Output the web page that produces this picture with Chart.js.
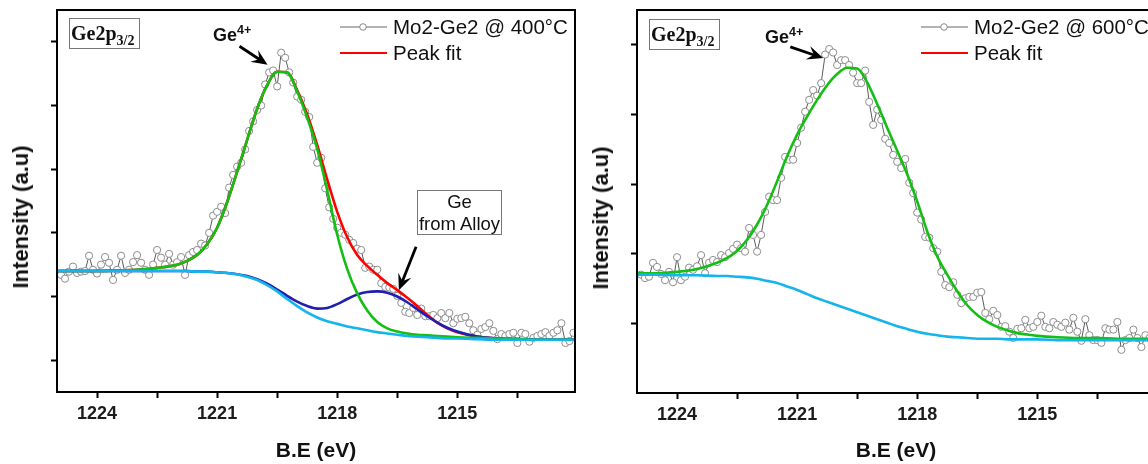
<!DOCTYPE html>
<html>
<head>
<meta charset="utf-8">
<title>Ge2p3/2 XPS - Mo2-Ge2</title>
<script src="https://cdn.jsdelivr.net/npm/chart.js@4.4.1/dist/chart.umd.min.js"></script>
<style>
html, body { margin: 0; padding: 0; background: #fff; }
body { width: 1148px; height: 464px; overflow: hidden; position: relative; font-family: "Liberation Sans", Arial, sans-serif; color: #111; }
.panel { position: absolute; top: 0; width: 580px; height: 464px; }
.panel canvas { position: absolute; left: 0; top: 0; }
.ytitle { position: absolute; font-weight: bold; font-size: 22px; line-height: 22px; white-space: nowrap; transform: translate(-50%, -50%) rotate(-90deg); }
.tag { position: absolute; width: 71px; height: 31px; box-sizing: border-box; border: 1px solid #777; padding-left: 1px; font-family: "Liberation Serif", "Times New Roman", serif; font-weight: bold; font-size: 20px; line-height: 29px; white-space: nowrap; }
.tag .sub { font-size: 14px; position: relative; top: 5px; }
.ion { position: absolute; font-weight: bold; font-size: 18px; line-height: 18px; white-space: nowrap; }
.ion .sup { font-size: 12.5px; position: relative; top: -7px; }
.lgtext { position: absolute; font-size: 20.5px; line-height: 20.5px; white-space: nowrap; }
.lgsym { position: absolute; }
.alloy { position: absolute; box-sizing: border-box; border: 1px solid #777; font-size: 18.5px; line-height: 22px; text-align: center; white-space: nowrap; }
</style>
</head>
<body>

<div class="panel" style="left:0px">
  <canvas id="c400" width="580" height="464"></canvas>
  <div class="ytitle" style="left:21px;top:217px">Intensity (a.u)</div>
  <div class="tag" style="left:69px;top:18px">Ge2p<span class="sub">3/2</span></div>
  <div class="ion" style="left:213px;top:26px">Ge<span class="sup">4+</span></div>
  <svg class="lgsym" style="left:340px;top:20px" width="48" height="14"><line x1="0" y1="7" x2="47" y2="7" stroke="#666" stroke-width="1.2"/><circle cx="23" cy="7" r="3.3" fill="#fff" stroke="#888" stroke-width="1"/></svg>
  <svg class="lgsym" style="left:340px;top:46px" width="48" height="14"><line x1="0" y1="7" x2="47" y2="7" stroke="#ff0000" stroke-width="2.2"/></svg>
  <div class="lgtext" style="left:393px;top:17px">Mo2-Ge2 @ 400°C</div>
  <div class="lgtext" style="left:393px;top:43px">Peak fit</div>
  <div class="alloy" style="left:417px;top:190px;width:85px;height:45px">Ge<br>from Alloy</div>
</div>

<div class="panel" style="left:580px">
  <canvas id="c600" width="580" height="464"></canvas>
  <div class="ytitle" style="left:21px;top:218px">Intensity (a.u)</div>
  <div class="tag" style="left:69px;top:19px">Ge2p<span class="sub">3/2</span></div>
  <div class="ion" style="left:185px;top:28px">Ge<span class="sup">4+</span></div>
  <svg class="lgsym" style="left:341px;top:20px" width="48" height="14"><line x1="0" y1="7" x2="47" y2="7" stroke="#666" stroke-width="1.2"/><circle cx="23" cy="7" r="3.3" fill="#fff" stroke="#888" stroke-width="1"/></svg>
  <svg class="lgsym" style="left:341px;top:46px" width="48" height="14"><line x1="0" y1="7" x2="47" y2="7" stroke="#ff0000" stroke-width="2.2"/></svg>
  <div class="lgtext" style="left:394px;top:17px">Mo2-Ge2 @ 600°C</div>
  <div class="lgtext" style="left:394px;top:43px">Peak fit</div>
</div>

<script>
// binding energy of every measured point (eV)
const dataEV = [
  1224.9, 1224.8, 1224.7, 1224.6, 1224.5, 1224.4, 1224.3, 1224.2, 1224.1, 1224.0,
  1223.9, 1223.8, 1223.7, 1223.6, 1223.5, 1223.4, 1223.3, 1223.2, 1223.1, 1223.0,
  1222.9, 1222.8, 1222.7, 1222.6, 1222.5, 1222.4, 1222.3, 1222.2, 1222.1, 1222.0,
  1221.9, 1221.8, 1221.7, 1221.6, 1221.5, 1221.4, 1221.3, 1221.2, 1221.1, 1221.0,
  1220.9, 1220.8, 1220.7, 1220.6, 1220.5, 1220.4, 1220.3, 1220.2, 1220.1, 1220.0,
  1219.9, 1219.8, 1219.7, 1219.6, 1219.5, 1219.4, 1219.3, 1219.2, 1219.1, 1219.0,
  1218.9, 1218.8, 1218.7, 1218.6, 1218.5, 1218.4, 1218.3, 1218.2, 1218.1, 1218.0,
  1217.9, 1217.8, 1217.7, 1217.6, 1217.5, 1217.4, 1217.3, 1217.2, 1217.1, 1217.0,
  1216.9, 1216.8, 1216.7, 1216.6, 1216.5, 1216.4, 1216.3, 1216.2, 1216.1, 1216.0,
  1215.9, 1215.8, 1215.7, 1215.6, 1215.5, 1215.4, 1215.3, 1215.2, 1215.1, 1215.0,
  1214.9, 1214.8, 1214.7, 1214.6, 1214.5, 1214.4, 1214.3, 1214.2, 1214.1, 1214.0,
  1213.9, 1213.8, 1213.7, 1213.6, 1213.5, 1213.4, 1213.3, 1213.2, 1213.1, 1213.0,
  1212.9, 1212.8, 1212.7, 1212.6, 1212.5, 1212.4, 1212.3, 1212.2, 1212.1
];

// Mo2-Ge2 @ 400°C (a.u)
const counts400 = [
  1.84, 1.78, 1.89, 1.97, 1.87, 1.89, 1.90, 2.14, 1.92, 1.86,
  2.00, 2.12, 2.03, 1.76, 1.92, 2.14, 1.87, 1.92, 2.04, 2.15,
  2.03, 1.92, 1.84, 2.00, 2.23, 2.11, 2.00, 2.17, 2.00, 2.04,
  2.12, 1.84, 2.15, 2.20, 2.23, 2.33, 2.30, 2.50, 2.77, 2.83,
  2.91, 2.81, 3.21, 3.41, 3.54, 3.60, 3.81, 4.10, 4.25, 4.43,
  4.50, 4.83, 5.02, 5.05, 4.80, 5.33, 5.25, 5.02, 4.86, 4.64,
  4.59, 4.40, 4.32, 3.85, 3.60, 3.68, 3.20, 2.90, 2.72, 2.58,
  2.50, 2.47, 2.39, 2.34, 2.25, 2.23, 1.95, 1.97, 1.92, 1.92,
  1.71, 1.65, 1.64, 1.62, 1.51, 1.40, 1.26, 1.24, 1.32, 1.21,
  1.31, 1.19, 1.19, 1.21, 1.16, 1.24, 1.16, 1.24, 1.08, 1.15,
  1.16, 1.18, 1.08, 0.97, 0.90, 0.99, 1.02, 1.08, 0.96, 0.83,
  0.91, 0.88, 0.91, 0.93, 0.77, 0.93, 0.91, 0.79, 0.85, 0.88,
  0.91, 0.94, 0.88, 0.93, 0.97, 1.08, 0.77, 0.80, 0.93
];

// Mo2-Ge2 @ 600°C (a.u)
const counts600 = [
  1.70, 1.65, 1.67, 1.87, 1.81, 1.71, 1.62, 1.74, 1.59, 1.95,
  1.62, 1.67, 1.80, 1.77, 1.82, 1.98, 1.72, 1.87, 1.91, 1.88,
  1.98, 1.95, 2.01, 2.07, 2.13, 2.08, 2.03, 2.37, 2.27, 2.03,
  2.27, 2.60, 2.82, 2.77, 2.77, 3.09, 3.39, 3.35, 3.35, 3.59,
  3.81, 4.04, 4.21, 4.35, 4.27, 4.45, 4.86, 4.94, 4.89, 4.71,
  4.78, 4.78, 4.71, 4.60, 4.45, 4.45, 4.63, 4.18, 3.85, 4.07,
  3.92, 3.65, 3.59, 3.42, 3.32, 3.23, 3.36, 3.02, 2.87, 2.59,
  2.49, 2.24, 2.23, 2.08, 2.03, 1.74, 1.55, 1.52, 1.59, 1.41,
  1.29, 1.36, 1.38, 1.38, 1.44, 1.45, 1.15, 1.06, 1.18, 1.12,
  0.95, 0.96, 0.88, 0.79, 0.92, 0.93, 1.05, 0.93, 0.95, 1.02,
  1.11, 0.95, 0.93, 1.02, 0.98, 0.95, 1.01, 0.91, 1.08, 0.88,
  0.75, 1.06, 0.83, 0.76, 0.76, 0.72, 0.93, 0.91, 0.91, 1.02,
  0.62, 0.76, 0.79, 0.91, 0.79, 0.66, 0.83, 0.79, 0.86
];

// energies where the fitted curves were read
const fitEV = [
  1225.0, 1224.5, 1224.0, 1223.5, 1223.0, 1222.75, 1222.5, 1222.25, 1222.0, 1221.75,
  1221.5, 1221.25, 1221.0, 1220.75, 1220.5, 1220.25, 1220.0, 1219.75, 1219.5, 1219.25,
  1219.0, 1218.75, 1218.5, 1218.25, 1218.0, 1217.75, 1217.5, 1217.25, 1217.0, 1216.75,
  1216.5, 1216.25, 1216.0, 1215.75, 1215.5, 1215.25, 1215.0, 1214.5, 1214.0, 1213.5,
  1213.0, 1212.0
];

// 400°C: envelope (red), Ge4+ (green), alloy Ge (blue), background (cyan)
const envelope400 = [
  1.90, 1.90, 1.90, 1.91, 1.92, 1.93, 1.95, 1.97, 2.00, 2.06,
  2.15, 2.32, 2.58, 2.98, 3.46, 3.96, 4.45, 4.82, 5.03, 5.02,
  4.74, 4.36, 3.88, 3.34, 2.83, 2.43, 2.15, 1.98, 1.84, 1.71,
  1.60, 1.48, 1.35, 1.21, 1.09, 1.00, 0.94, 0.87, 0.84, 0.83,
  0.82, 0.82
];
const ge4plus400 = [
  1.90, 1.90, 1.90, 1.91, 1.92, 1.93, 1.95, 1.97, 2.00, 2.06,
  2.15, 2.32, 2.58, 2.98, 3.46, 3.96, 4.45, 4.82, 5.03, 5.02,
  4.72, 4.31, 3.82, 3.17, 2.47, 1.93, 1.55, 1.28, 1.10, 1.00,
  0.95, 0.92, 0.90, 0.89, 0.88, 0.87, 0.86, 0.85, 0.84, 0.83,
  0.82, 0.82
];
const alloy400 = [
  1.90, 1.90, 1.90, 1.90, 1.90, 1.90, 1.90, 1.90, 1.90, 1.90,
  1.89, 1.89, 1.88, 1.87, 1.85, 1.82, 1.77, 1.70, 1.61, 1.51,
  1.42, 1.35, 1.31, 1.32, 1.38, 1.46, 1.53, 1.57, 1.58, 1.56,
  1.50, 1.41, 1.30, 1.19, 1.09, 1.01, 0.95, 0.87, 0.84, 0.83,
  0.82, 0.82
];
const background400 = [
  1.90, 1.90, 1.90, 1.90, 1.90, 1.90, 1.90, 1.90, 1.90, 1.90,
  1.89, 1.89, 1.88, 1.87, 1.85, 1.81, 1.76, 1.68, 1.58, 1.46,
  1.35, 1.25, 1.17, 1.11, 1.07, 1.03, 1.00, 0.97, 0.94, 0.92,
  0.90, 0.88, 0.87, 0.86, 0.85, 0.84, 0.84, 0.83, 0.82, 0.82,
  0.82, 0.82
];

// 600°C: Ge4+ (green) and background (cyan)
const ge4plus600 = [
  1.72, 1.72, 1.74, 1.78, 1.87, 1.94, 2.04, 2.20, 2.42, 2.70,
  3.04, 3.40, 3.71, 3.97, 4.21, 4.42, 4.58, 4.67, 4.66, 4.46,
  4.15, 3.81, 3.48, 3.14, 2.75, 2.32, 1.96, 1.70, 1.46, 1.26,
  1.12, 1.02, 0.95, 0.90, 0.86, 0.84, 0.82, 0.80, 0.79, 0.79,
  0.78, 0.78
];
const background600 = [
  1.70, 1.70, 1.69, 1.69, 1.68, 1.68, 1.67, 1.66, 1.64, 1.61,
  1.58, 1.53, 1.48, 1.42, 1.36, 1.31, 1.26, 1.21, 1.16, 1.11,
  1.06, 1.01, 0.96, 0.92, 0.88, 0.85, 0.83, 0.81, 0.80, 0.79,
  0.78, 0.78, 0.78, 0.77, 0.77, 0.77, 0.77, 0.76, 0.76, 0.76,
  0.76, 0.76
];

// axes
const xMin = 1212.06;
const xMax = 1225.0;
const xLabels = [1224, 1221, 1218, 1215];
const xMinor = [1222.5, 1219.5, 1216.5, 1213.5];
const yTicks400 = [0.5, 1.5, 2.5, 3.5, 4.5, 5.5];
const yTicks600 = [1, 2, 3, 4, 5];

const GREEN = '#12bf12';
const RED = '#ff0000';
const BLUE = '#2020b0';
const CYAN = '#14b4ec';

function pts(xs, ys) {
  return xs.map((x, i) => ({ x: x, y: ys[i] }));
}

// black frame round the plot area
const framePlugin = {
  id: 'frame',
  afterDatasetsDraw(chart) {
    const { ctx, chartArea: a } = chart;
    ctx.save();
    ctx.strokeStyle = '#000';
    ctx.lineWidth = 2;
    ctx.strokeRect(a.left, a.top, a.right - a.left, a.bottom - a.top);
    ctx.restore();
  }
};

// annotation arrows, given in data units
const arrowPlugin = {
  id: 'arrows',
  afterDatasetsDraw(chart, args, opts) {
    const { ctx, scales } = chart;
    (opts.list || []).forEach(a => {
      const x0 = scales.x.getPixelForValue(a.from[0]);
      const y0 = scales.y.getPixelForValue(a.from[1]);
      const x1 = scales.x.getPixelForValue(a.to[0]);
      const y1 = scales.y.getPixelForValue(a.to[1]);
      const ang = Math.atan2(y1 - y0, x1 - x0);
      const L = 16, W = 7;
      ctx.save();
      ctx.strokeStyle = '#000';
      ctx.fillStyle = '#000';
      ctx.lineWidth = 2.8;
      ctx.beginPath();
      ctx.moveTo(x0, y0);
      ctx.lineTo(x1 - Math.cos(ang) * L * 0.6, y1 - Math.sin(ang) * L * 0.6);
      ctx.stroke();
      ctx.translate(x1, y1);
      ctx.rotate(ang);
      ctx.beginPath();
      ctx.moveTo(0, 0);
      ctx.lineTo(-L, -W);
      ctx.lineTo(-L * 0.62, 0);
      ctx.lineTo(-L, W);
      ctx.closePath();
      ctx.fill();
      ctx.restore();
    });
  }
};

function makePanel(id, counts, curves, yMax, yTicks, axisH, arrows) {
  const datasets = [{
    label: 'data',
    data: pts(dataEV, counts),
    showLine: true,
    borderColor: '#5c5c5c',
    borderWidth: 1,
    tension: 0,
    pointRadius: 3.6,
    pointBackgroundColor: '#ffffff',
    pointBorderColor: '#8d8d8d',
    pointBorderWidth: 1,
    order: 9
  }];
  curves.forEach(c => {
    datasets.push({
      label: c.label,
      data: pts(fitEV, c.values),
      borderColor: c.color,
      borderWidth: 2.6,
      pointRadius: 0,
      fill: false,
      cubicInterpolationMode: 'monotone',
      order: c.order
    });
  });

  const tickGrid = { drawOnChartArea: false, drawTicks: true, tickLength: 6, tickWidth: 2, tickColor: '#000' };
  const border = { display: true, color: '#000', width: 2 };

  return new Chart(document.getElementById(id), {
    type: 'line',
    data: { datasets: datasets },
    options: {
      responsive: false,
      animation: false,
      devicePixelRatio: 1,
      events: [],
      layout: { padding: { top: 10, right: 3, bottom: 0, left: 0 } },
      plugins: {
        legend: { display: false },
        tooltip: { enabled: false },
        arrows: { list: arrows }
      },
      scales: {
        x: {
          type: 'linear',
          reverse: true,
          min: xMin,
          max: xMax,
          afterBuildTicks: s => {
            s.ticks = xLabels.concat(xMinor).sort((a, b) => a - b).map(v => ({ value: v }));
          },
          afterFit: s => { s.height = axisH; },
          ticks: {
            autoSkip: false,
            maxRotation: 0,
            padding: 5,
            color: '#1c1c1c',
            font: { family: 'Liberation Sans', size: 18, weight: 'bold' },
            callback: v => xLabels.includes(v) ? String(v) : ''
          },
          grid: tickGrid,
          border: border,
          title: {
            display: true,
            text: 'B.E (eV)',
            color: '#111',
            font: { family: 'Liberation Sans', size: 21, weight: 'bold' },
            padding: 0
          }
        },
        y: {
          type: 'linear',
          min: 0,
          max: yMax,
          afterBuildTicks: s => { s.ticks = yTicks.map(v => ({ value: v })); },
          afterFit: s => { s.width = 57; },
          ticks: { display: false },
          grid: tickGrid,
          border: border
        }
      }
    },
    plugins: [framePlugin, arrowPlugin]
  });
}

makePanel('c400', counts400, [
  { label: 'Peak fit', values: envelope400, color: RED, order: 4 },
  { label: 'Ge alloy', values: alloy400, color: BLUE, order: 3 },
  { label: 'Ge4+', values: ge4plus400, color: GREEN, order: 2 },
  { label: 'Background', values: background400, color: CYAN, order: 1 }
], 6, yTicks400, 72, [
  { from: [1220.44, 5.43], to: [1219.74, 5.14] },
  { from: [1216.03, 2.28], to: [1216.46, 1.60] }
]);

makePanel('c600', counts600, [
  { label: 'Ge4+', values: ge4plus600, color: GREEN, order: 2 },
  { label: 'Background', values: background600, color: CYAN, order: 1 }
], 5.5, yTicks600, 71, [
  { from: [1221.17, 4.97], to: [1220.35, 4.81] }
]);
</script>
</body>
</html>
